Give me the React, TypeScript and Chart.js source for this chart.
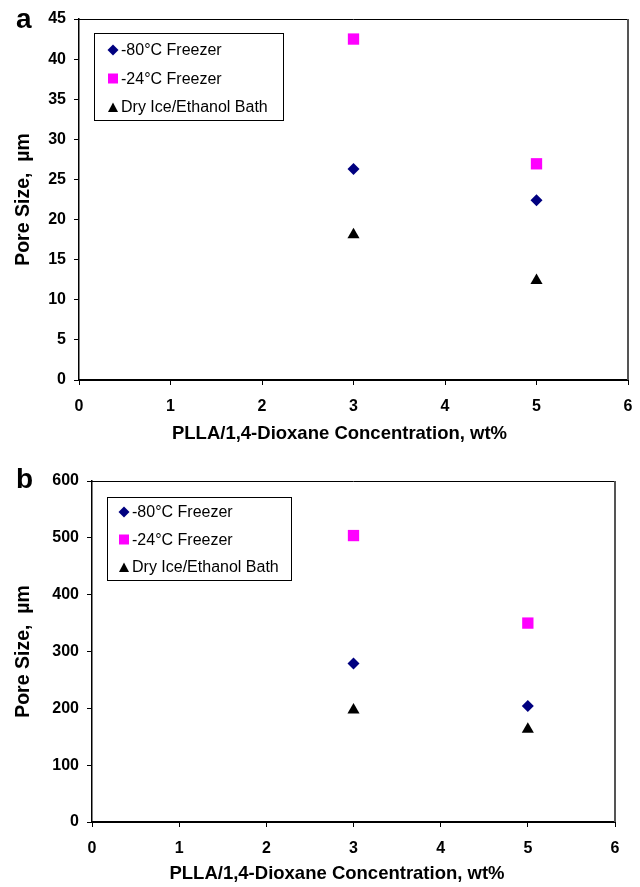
import React, { useEffect, useRef } from "react";
import { Chart, registerables } from "chart.js";

Chart.register(...registerables);

// ---- Data ----
const concentrations = [3, 5];
const seriesLabels = ["-80°C Freezer", "-24°C Freezer", "Dry Ice/Ethanol Bath"];
const seriesColors = ["#000080", "#FF00FF", "#000000"];
const seriesStyles = ["rectRot", "rect", "triangle"];
const seriesRadii = [6, 8, 7];

const poreA_minus80 = [26.3, 22.4];
const poreA_minus24 = [42.5, 26.95];
const poreA_dryIce = [18.1, 12.4];

const poreB_minus80 = [279, 204];
const poreB_minus24 = [504, 350];
const poreB_dryIce = [197, 163];

const xTickValues = [0, 1, 2, 3, 4, 5, 6];
const yTicksA = [0, 5, 10, 15, 20, 25, 30, 35, 40, 45];
const yTicksB = [0, 100, 200, 300, 400, 500, 600];

const xTitle = "PLLA/1,4-Dioxane Concentration, wt%";
const yTitle = "Pore Size,  µm";

const FONT = "'Liberation Sans', Arial, Helvetica, sans-serif";

function drawMarker(ctx: CanvasRenderingContext2D, style: string, x: number, y: number, s: number, color: string) {
  ctx.save();
  ctx.fillStyle = color;
  ctx.beginPath();
  if (style === "rectRot") {
    ctx.moveTo(x, y - s);
    ctx.lineTo(x + s, y);
    ctx.lineTo(x, y + s);
    ctx.lineTo(x - s, y);
  } else if (style === "rect") {
    ctx.rect(x - s, y - s, 2 * s, 2 * s);
  } else {
    ctx.moveTo(x, y - s);
    ctx.lineTo(x + s, y + s * 0.9);
    ctx.lineTo(x - s, y + s * 0.9);
  }
  ctx.closePath();
  ctx.fill();
  ctx.restore();
}

const boxLegendPlugin = {
  id: "boxLegend",
  afterDraw(chart: any, _args: any, opts: any) {
    const ctx: CanvasRenderingContext2D = chart.ctx;
    const { x, y, w, h, rowGap, firstRow, markerX, textX } = opts;
    ctx.save();
    ctx.fillStyle = "#ffffff";
    ctx.fillRect(x, y, w, h);
    ctx.strokeStyle = "#000000";
    ctx.lineWidth = 1;
    ctx.strokeRect(x + 0.5, y + 0.5, w, h);
    ctx.font = `16px ${FONT}`;
    ctx.textBaseline = "middle";
    ctx.textAlign = "left";
    chart.data.datasets.forEach((ds: any, i: number) => {
      const cy = y + firstRow + i * rowGap;
      const style = ds.pointStyle;
      const s = style === "rectRot" ? 5.5 : 5;
      drawMarker(ctx, style, x + markerX, style === "triangle" ? cy + 0.5 : cy, s, ds.backgroundColor);
      ctx.fillStyle = "#000000";
      ctx.fillText(ds.label, x + textX, cy + 1);
    });
    ctx.restore();
  },
};

const xTitlePlugin = {
  id: "xTitle",
  afterDraw(chart: any, _args: any, opts: any) {
    const ctx: CanvasRenderingContext2D = chart.ctx;
    ctx.save();
    ctx.font = `bold 18.5px ${FONT}`;
    ctx.fillStyle = "#000000";
    ctx.textAlign = "center";
    ctx.textBaseline = "middle";
    ctx.fillText(opts.text, opts.cx, opts.cy);
    ctx.restore();
  },
};

const framePlugin = {
  id: "frame",
  afterDraw(chart: any) {
    const { ctx, chartArea } = chart;
    ctx.save();
    ctx.strokeStyle = "#000000";
    ctx.lineWidth = 1;
    ctx.beginPath();
    ctx.moveTo(chartArea.left, chartArea.top + 0.5);
    ctx.lineTo(chartArea.right, chartArea.top + 0.5);
    ctx.stroke();
    ctx.strokeStyle = "#555555";
    ctx.lineWidth = 2;
    ctx.beginPath();
    ctx.moveTo(chartArea.right, chartArea.top);
    ctx.lineTo(chartArea.right, chartArea.bottom);
    ctx.stroke();
    ctx.restore();
  },
};

type PanelProps = {
  top: number;
  height: number;
  letter: string;
  letterTop: number;
  values: number[][];
  yTicks: number[];
  yAxisWidth: number;
  xAxisHeight: number;
  padTop: number;
  padRight: number;
  xTitlePos: { cx: number; cy: number };
  legend: any;
};

function Panel(p: PanelProps) {
  const ref = useRef<HTMLCanvasElement | null>(null);
  useEffect(() => {
    if (!ref.current) return;
    const yMax = p.yTicks[p.yTicks.length - 1];
    const chart = new Chart(ref.current, {
      type: "scatter",
      data: {
        datasets: seriesLabels.map((label, i) => ({
          label,
          data: concentrations.map((c, j) => ({ x: c, y: p.values[i][j] })),
          pointStyle: seriesStyles[i] as any,
          pointRadius: seriesRadii[i],
          pointHoverRadius: seriesRadii[i],
          backgroundColor: seriesColors[i],
          borderColor: seriesColors[i],
          borderWidth: 0,
          showLine: false,
        })),
      },
      options: {
        responsive: false,
        animation: false,
        events: [],
        layout: { padding: { top: p.padTop, right: p.padRight, left: 0, bottom: 0 } },
        plugins: {
          legend: { display: false },
          tooltip: { enabled: false },
          boxLegend: p.legend,
          xTitle: { text: xTitle, cx: p.xTitlePos.cx, cy: p.xTitlePos.cy },
        } as any,
        scales: {
          x: {
            type: "linear",
            min: 0,
            max: 6,
            afterBuildTicks: (scale: any) => {
              scale.ticks = xTickValues.map((v) => ({ value: v }));
            },
            afterFit: (scale: any) => {
              scale.height = p.xAxisHeight;
              scale.paddingLeft = 0;
              scale.paddingRight = 0;
            },
            ticks: {
              color: "#000000",
              font: { family: FONT, size: 16, weight: "bold" },
              padding: 12,
              maxRotation: 0,
            },
            grid: {
              display: true,
              drawOnChartArea: false,
              drawTicks: true,
              tickLength: 5,
              color: "#000000",
              lineWidth: 1,
            },
            border: { display: true, color: "#000000", width: 2 },
            title: { display: false },
          },
          y: {
            type: "linear",
            min: 0,
            max: yMax,
            afterBuildTicks: (scale: any) => {
              scale.ticks = p.yTicks.map((v) => ({ value: v }));
            },
            afterFit: (scale: any) => {
              scale.width = p.yAxisWidth;
            },
            ticks: {
              color: "#000000",
              font: { family: FONT, size: 16, weight: "bold" },
              padding: 8,
            },
            grid: {
              display: true,
              drawOnChartArea: false,
              drawTicks: true,
              tickLength: 5,
              color: "#000000",
              lineWidth: 1,
            },
            border: { display: true, color: "#000000", width: 1.5 },
            title: {
              display: true,
              text: yTitle,
              color: "#000000",
              font: { family: FONT, size: 19.5, weight: "bold" },
              padding: { top: 11.5, bottom: 0 },
            },
          },
        },
      },
      plugins: [framePlugin, boxLegendPlugin, xTitlePlugin],
    } as any);
    return () => chart.destroy();
  }, []);
  return (
    <div style={{ position: "absolute", left: 0, top: p.top, width: 640, height: p.height }}>
      <canvas ref={ref} width={640} height={p.height} style={{ display: "block" }} />
      <div
        style={{
          position: "absolute",
          left: 16,
          top: p.letterTop,
          fontFamily: FONT,
          fontWeight: "bold",
          fontSize: 28,
          lineHeight: "28px",
          color: "#000",
        }}
      >
        {p.letter}
      </div>
    </div>
  );
}

export default function App() {
  return (
    <div style={{ position: "fixed", left: 0, top: 0, width: 640, height: 887, background: "#fff" }}>
      <Panel
        top={0}
        height={443}
        letter="a"
        letterTop={4.5}
        values={[poreA_minus80, poreA_minus24, poreA_dryIce]}
        yTicks={yTicksA}
        yAxisWidth={79}
        xAxisHeight={63}
        padTop={19}
        padRight={12}
        xTitlePos={{ cx: 339.5, cy: 434 }}
        legend={{ x: 94, y: 33, w: 189, h: 87, rowGap: 28.5, firstRow: 17, markerX: 19, textX: 27 }}
      />
      <Panel
        top={443}
        height={444}
        letter="b"
        letterTop={21.5}
        values={[poreB_minus80, poreB_minus24, poreB_dryIce]}
        yTicks={yTicksB}
        yAxisWidth={92}
        xAxisHeight={65}
        padTop={38}
        padRight={25}
        xTitlePos={{ cx: 337, cy: 431 }}
        legend={{ x: 107, y: 54, w: 184, h: 83, rowGap: 27.5, firstRow: 15, markerX: 17, textX: 25 }}
      />
    </div>
  );
}
